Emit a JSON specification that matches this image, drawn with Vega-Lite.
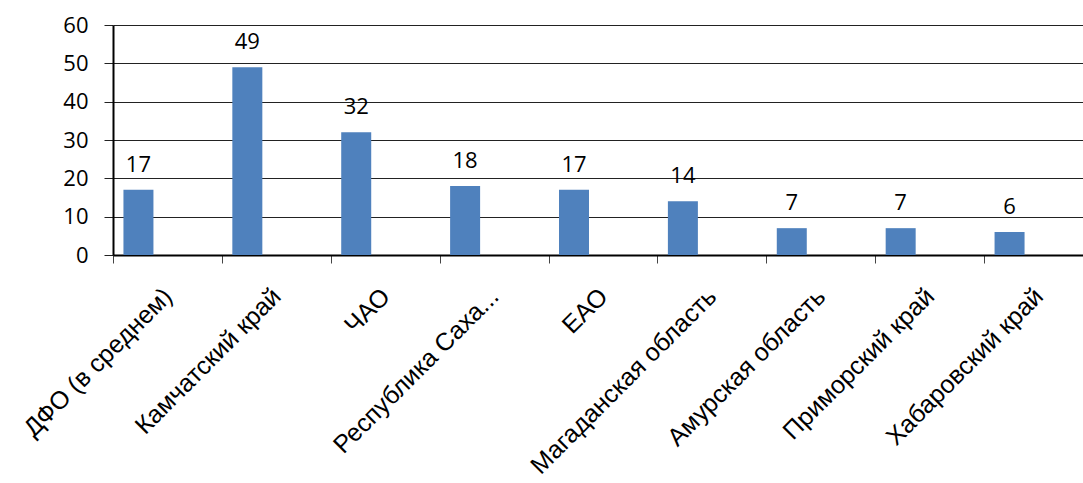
{
  "$schema": "https://vega.github.io/schema/vega-lite/v6.json",
  "width": 970,
  "height": 230,
  "autosize": {"type": "none"},
  "padding": {"left": 113, "top": 25, "right": 0, "bottom": 228},
  "background": "white",
  "config": {"view": {"stroke": null}},
  "data": {"values": [
    {"region": "ДФО (в среднем)", "value": 17},
    {"region": "Камчатский край", "value": 49},
    {"region": "ЧАО", "value": 32},
    {"region": "Республика Саха...", "value": 18},
    {"region": "ЕАО", "value": 17},
    {"region": "Магаданская область", "value": 14},
    {"region": "Амурская область", "value": 7},
    {"region": "Приморский край", "value": 7},
    {"region": "Хабаровский край", "value": 6}
  ]},
  "encoding": {
    "x": {
      "field": "region", "type": "nominal", "sort": null,
      "scale": {"paddingInner": 0, "paddingOuter": 0, "range": [0, 980]},
      "axis": {
        "title": null, "labelAngle": -45, "labelAlign": "right", "labelBaseline": "middle",
        "labelFont": "Liberation Sans", "labelFontSize": 25, "labelColor": "black",
        "labelPadding": 29, "labelLimit": 400,
        "domainColor": "black", "domainWidth": 2,
        "tickBand": "extent", "tickColor": "#444", "tickSize": 8, "tickWidth": 1,
        "grid": false
      }
    },
    "y": {
      "field": "value", "type": "quantitative",
      "scale": {"domain": [0, 60]},
      "axis": {
        "title": null, "values": [0, 10, 20, 30, 40, 50, 60],
        "labelFont": "Open Sans", "labelFontSize": 22, "labelColor": "black", "labelPadding": 16,
        "domainColor": "black", "domainWidth": 2,
        "tickColor": "#222", "tickSize": 9,
        "grid": true, "gridColor": "#222", "gridWidth": 1
      }
    }
  },
  "layer": [
    {"mark": {"type": "bar", "width": 30, "xOffset": -29, "color": "#4F81BD"}},
    {"mark": {"type": "text", "xOffset": -29, "dy": -18, "baseline": "alphabetic", "font": "Open Sans", "fontSize": 22, "color": "black"},
     "encoding": {"text": {"field": "value", "type": "quantitative"}}}
  ]
}
